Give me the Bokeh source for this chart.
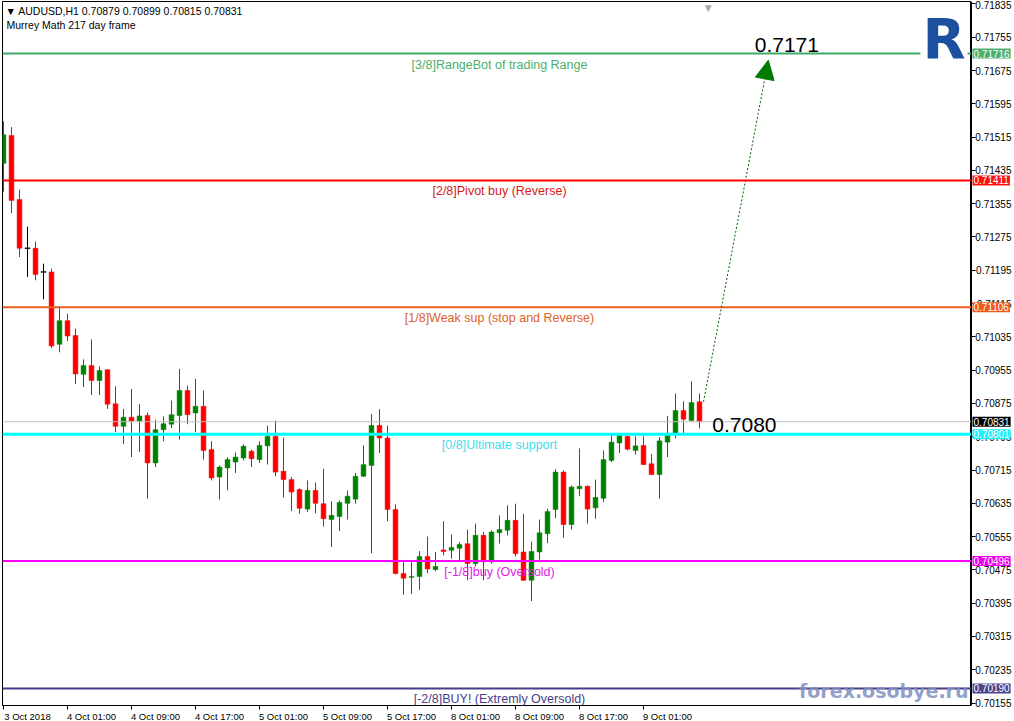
from bokeh.plotting import figure
from bokeh.layouts import row
from bokeh.models import (Range1d, FixedTicker, Span, Label, PrintfTickFormatter,
                          ColumnDataSource, Arrow, NormalHead, LinearAxis)
from bokeh.embed import file_html
from bokeh.resources import INLINE

# ---- data -------------------------------------------------------------
symbol = "AUDUSD,H1"
indicator_name = "Murrey Math 217 day frame"

opens = [0.71452, 0.71519, 0.71365, 0.71248, 0.71248, 0.71191, 0.71191, 0.71017, 0.71074, 0.71038,
         0.70945, 0.70966, 0.70930, 0.70956, 0.70874, 0.70820, 0.70842, 0.70833, 0.70846, 0.70732,
         0.70812, 0.70825, 0.70846, 0.70906, 0.70852, 0.70868, 0.70764, 0.70698, 0.70720, 0.70734,
         0.70744, 0.70760, 0.70740, 0.70773, 0.70796, 0.70712, 0.70692, 0.70668, 0.70621, 0.70666,
         0.70634, 0.70596, 0.70603, 0.70635, 0.70645, 0.70700, 0.70726, 0.70822, 0.70792, 0.70620,
         0.70466, 0.70457, 0.70459, 0.70507, 0.70476, 0.70523, 0.70522, 0.70527, 0.70538, 0.70490,
         0.70558, 0.70494, 0.70564, 0.70570, 0.70594, 0.70518, 0.70450, 0.70518, 0.70562, 0.70620,
         0.70710, 0.70584, 0.70670, 0.70676, 0.70624, 0.70647, 0.70738, 0.70780, 0.70796, 0.70762,
         0.70774, 0.70730, 0.70704, 0.70782, 0.70803, 0.70858, 0.70834, 0.70879]
highs = [0.71553, 0.71539, 0.71389, 0.71300, 0.71264, 0.71211, 0.71199, 0.71108, 0.71091, 0.71055,
         0.70981, 0.71029, 0.70964, 0.70957, 0.70916, 0.70862, 0.70910, 0.70874, 0.70853, 0.70836,
         0.70844, 0.70882, 0.70958, 0.70918, 0.70934, 0.70906, 0.70784, 0.70726, 0.70746, 0.70757,
         0.70777, 0.70764, 0.70784, 0.70822, 0.70834, 0.70793, 0.70698, 0.70671, 0.70690, 0.70685,
         0.70718, 0.70640, 0.70642, 0.70666, 0.70708, 0.70774, 0.70850, 0.70861, 0.70822, 0.70632,
         0.70499, 0.70494, 0.70520, 0.70555, 0.70518, 0.70592, 0.70560, 0.70542, 0.70572, 0.70586,
         0.70566, 0.70570, 0.70606, 0.70630, 0.70634, 0.70610, 0.70543, 0.70596, 0.70622, 0.70717,
         0.70714, 0.70678, 0.70767, 0.70678, 0.70692, 0.70762, 0.70804, 0.70804, 0.70803, 0.70796,
         0.70796, 0.70754, 0.70794, 0.70845, 0.70899, 0.70880, 0.70928, 0.70899]
lows = [0.71384, 0.71332, 0.71227, 0.71179, 0.71171, 0.71125, 0.71008, 0.70998, 0.71025, 0.70922,
        0.70914, 0.70895, 0.70895, 0.70862, 0.70806, 0.70777, 0.70746, 0.70758, 0.70646, 0.70722,
        0.70784, 0.70816, 0.70788, 0.70825, 0.70806, 0.70740, 0.70690, 0.70644, 0.70666, 0.70708,
        0.70738, 0.70722, 0.70732, 0.70728, 0.70700, 0.70649, 0.70616, 0.70610, 0.70614, 0.70611,
        0.70579, 0.70530, 0.70568, 0.70596, 0.70634, 0.70698, 0.70515, 0.70756, 0.70592, 0.70464,
        0.70415, 0.70417, 0.70427, 0.70467, 0.70472, 0.70510, 0.70502, 0.70498, 0.70450, 0.70483,
        0.70450, 0.70490, 0.70538, 0.70558, 0.70507, 0.70448, 0.70400, 0.70499, 0.70539, 0.70599,
        0.70552, 0.70572, 0.70652, 0.70586, 0.70598, 0.70638, 0.70734, 0.70756, 0.70762, 0.70752,
        0.70727, 0.70703, 0.70646, 0.70746, 0.70791, 0.70803, 0.70833, 0.70815]
closes = [0.71521, 0.71363, 0.71248, 0.71248, 0.71185, 0.71191, 0.71013, 0.71074, 0.71037, 0.70946,
          0.70966, 0.70930, 0.70954, 0.70873, 0.70820, 0.70842, 0.70833, 0.70845, 0.70732, 0.70812,
          0.70826, 0.70848, 0.70906, 0.70848, 0.70868, 0.70762, 0.70696, 0.70722, 0.70740, 0.70746,
          0.70772, 0.70742, 0.70774, 0.70796, 0.70710, 0.70692, 0.70662, 0.70623, 0.70666, 0.70635,
          0.70598, 0.70606, 0.70637, 0.70652, 0.70700, 0.70728, 0.70822, 0.70792, 0.70620, 0.70466,
          0.70455, 0.70459, 0.70507, 0.70477, 0.70483, 0.70519, 0.70529, 0.70536, 0.70490, 0.70558,
          0.70494, 0.70566, 0.70572, 0.70594, 0.70514, 0.70450, 0.70519, 0.70564, 0.70615, 0.70710,
          0.70584, 0.70674, 0.70676, 0.70621, 0.70649, 0.70740, 0.70782, 0.70803, 0.70765, 0.70773,
          0.70728, 0.70704, 0.70785, 0.70803, 0.70858, 0.70837, 0.70877, 0.70831]

# hourly bars: a time label every 8 bars
x_tick_bars = [0, 8, 16, 24, 32, 40, 48, 56, 64, 72, 80]
x_tick_labels = ["3 Oct 2018", "4 Oct 01:00", "4 Oct 09:00", "4 Oct 17:00", "5 Oct 01:00",
                 "5 Oct 09:00", "5 Oct 17:00", "8 Oct 01:00", "8 Oct 09:00", "8 Oct 17:00",
                 "9 Oct 01:00"]

price_ticks = [0.70155, 0.70235, 0.70315, 0.70395, 0.70475, 0.70555, 0.70635, 0.70715,
               0.70795, 0.70875, 0.70955, 0.71035, 0.71115, 0.71195, 0.71275, 0.71355,
               0.71435, 0.71515, 0.71595, 0.71675, 0.71755, 0.71835]

# Murrey Math levels
level_prices = [0.71716, 0.71411, 0.71106, 0.70801, 0.70496, 0.70190]
level_names = ["[3/8]RangeBot of trading Range", "[2/8]Pivot buy (Reverse)",
               "[1/8]Weak sup (stop and Reverse)", "[0/8]Ultimate support",
               "[-1/8]buy (Oversold)", "[-2/8]BUY! (Extremly Oversold)"]
level_colors = ["#3DAA68", "#FF0000", "#E8601E", "#00FFFF", "#FF00FF", "#483D8B"]
level_text_colors = ["#4CAF6E", "#D81818", "#E0601E", "#3FDDEB", "#E020E0", "#483D8B"]
level_box_colors = ["#4CAF6E", "#FF1010", "#F0581C", "#22F0F8", "#F000F0", "#4A4590"]
level_widths = [2, 2, 2, 3, 2, 2]

target_price = 0.7171
entry_price = 0.7080

# ---- chart area ---------------------------------------------------------
x_lo, x_hi = -0.125, 121.0
y_range = Range1d(0.70149, 0.71841)
AX_FONT = "Liberation Sans"

p = figure(frame_width=969, frame_height=704, x_range=Range1d(x_lo, x_hi), y_range=y_range,
           x_axis_location=None, y_axis_location=None,
           toolbar_location=None, output_backend="svg",
           min_border_left=2, min_border_top=1, min_border_right=0, min_border_bottom=0,
           background_fill_color="white", border_fill_color="white")
p.outline_line_color = "black"
p.outline_line_width = 1
p.grid.visible = False

# time scale: tick marks on one axis, left-aligned captions on a second one
tick_axis = LinearAxis(ticker=FixedTicker(ticks=x_tick_bars),
                       major_label_overrides={b: "" for b in x_tick_bars},
                       major_label_text_font_size="1px", major_label_standoff=0,
                       major_tick_out=4, major_tick_in=0, minor_tick_out=0, minor_tick_in=0,
                       axis_line_color="black", major_tick_line_color="black")
caption_shift = 3.0
caption_pos = [b + caption_shift for b in x_tick_bars]
caption_axis = LinearAxis(ticker=FixedTicker(ticks=caption_pos),
                          major_label_overrides={c: t for c, t in zip(caption_pos, x_tick_labels)},
                          major_label_text_font=AX_FONT, major_label_text_font_size="9.5px",
                          major_label_text_color="black", major_label_standoff=1,
                          major_tick_out=0, major_tick_in=0, minor_tick_out=0, minor_tick_in=0,
                          axis_line_color=None, major_tick_line_color=None)
p.add_layout(tick_axis, "below")
p.add_layout(caption_axis, "below")

# ---- candles ------------------------------------------------------------
idx = list(range(len(closes)))
BULL, BEAR, FLAT = "#008000", "#FF0000", "#000000"
colors = [BULL if c > o else (BEAR if c < o else FLAT) for o, c in zip(opens, closes)]
src = ColumnDataSource(dict(
    x=idx, o=opens, h=highs, l=lows, c=closes,
    top=[max(o, c) for o, c in zip(opens, closes)],
    bot=[min(o, c) for o, c in zip(opens, closes)],
    color=colors))
p.segment(x0="x", y0="h", x1="x", y1="l", color="color", line_width=1, source=src)
p.vbar(x="x", top="top", bottom="bot", width=0.6, fill_color="color", line_color="color",
       line_width=0.5, source=src)
flat = [i for i in idx if opens[i] == closes[i]]
p.segment(x0=[i - 0.35 for i in flat], x1=[i + 0.35 for i in flat],
          y0=[opens[i] for i in flat], y1=[opens[i] for i in flat],
          line_color=FLAT, line_width=1)

# ---- bid line and Murrey levels ---------------------------------------
p.add_layout(Span(location=closes[-1], dimension="width", line_color="#C0C0C0", line_width=1))
for price, name, col, tcol, w in zip(level_prices, level_names, level_colors,
                                     level_text_colors, level_widths):
    p.add_layout(Span(location=price, dimension="width", line_color=col, line_width=w))
    p.add_layout(Label(x=62, y=price, y_offset=-4, text=name, text_align="center",
                       text_baseline="top", text_color=tcol, text_font=AX_FONT,
                       text_font_size="12.5px"))

# ---- projection ---------------------------------------------------------
last = len(closes) - 1
p.add_layout(Arrow(end=NormalHead(size=19, fill_color="#007A00", line_color="#007A00"),
                   x_start=last + 0.5, y_start=opens[-1],
                   x_end=last + 8.6, y_end=target_price - 0.0001,
                   line_color="#006400", line_dash="2 2", line_width=1))
p.add_layout(Label(x=last + 6.9, y=target_price, y_offset=11, text=f"{target_price:.4f}",
                   text_align="left", text_baseline="alphabetic", text_color="black",
                   text_font=AX_FONT, text_font_size="21px"))
p.add_layout(Label(x=last + 1.6, y=entry_price, y_offset=10, text=f"{entry_price:.4f}",
                   text_align="left", text_baseline="alphabetic", text_color="black",
                   text_font=AX_FONT, text_font_size="21px"))

# ---- header, logo, watermark -------------------------------------------
header = f"\u25BC {symbol}  {opens[-1]:.5f} {highs[-1]:.5f} {lows[-1]:.5f} {closes[-1]:.5f}"
p.add_layout(Label(x=x_lo, y=y_range.end, x_offset=3, y_offset=-3, text=header,
                   text_align="left", text_baseline="top", text_color="black",
                   text_font=AX_FONT, text_font_size="10.5px"))
p.add_layout(Label(x=x_lo, y=y_range.end, x_offset=4, y_offset=-17, text=indicator_name,
                   text_align="left", text_baseline="top", text_color="black",
                   text_font=AX_FONT, text_font_size="10.5px"))
p.add_layout(Label(x=last + 1.1, y=y_range.end, y_offset=-1, text="\u25BC",
                   text_align="center", text_baseline="top", text_color="#A8A8A8",
                   text_font="DejaVu Sans", text_font_size="9px"))
p.add_layout(Label(x=x_hi, y=y_range.end, x_offset=-4, y_offset=-2, text="R",
                   text_align="right", text_baseline="top", text_color="#1C4F9E",
                   text_font="DejaVu Sans", text_font_style="bold", text_font_size="56px",
                   background_fill_color="white", background_fill_alpha=1.0, padding=2))
p.add_layout(Label(x=x_hi, y=y_range.start, x_offset=-3, y_offset=4, text="forex.osobye.ru",
                   text_align="right", text_baseline="bottom", text_color="#7F8FC0",
                   text_alpha=0.85, text_font="DejaVu Sans", text_font_style="bold",
                   text_font_size="19px"))

# ---- price scale ----------------------------------------------------------
s = figure(frame_width=43, frame_height=704, x_range=Range1d(0, 1), y_range=y_range,
           x_axis_location=None, y_axis_location="left",
           toolbar_location=None, output_backend="svg",
           min_border_left=0, min_border_top=1, min_border_right=0, min_border_bottom=17,
           background_fill_color="white", border_fill_color="white")
s.outline_line_color = None
s.grid.visible = False
yax = s.yaxis[0]
yax.ticker = FixedTicker(ticks=price_ticks)
yax.formatter = PrintfTickFormatter(format="%.5f")
yax.major_label_text_font = AX_FONT
yax.major_label_text_font_size = "10px"
yax.major_label_text_color = "black"
yax.major_tick_in = 4
yax.major_tick_out = 0
yax.minor_tick_in = 0
yax.minor_tick_out = 0
yax.major_label_standoff = -40
yax.axis_line_color = "black"
yax.major_tick_line_color = "black"

for price, bcol in list(zip(level_prices, level_box_colors)) + [(closes[-1], "#000000")]:
    s.add_layout(Label(x=0, y=price, x_offset=1, text=f"{price:.5f}", text_align="left",
                       text_baseline="middle", text_color="white", text_font=AX_FONT,
                       text_font_size="10px", background_fill_color=bcol, padding=1))

layout = row(p, s, spacing=0)
open("out.html", "w").write(file_html(layout, INLINE))
